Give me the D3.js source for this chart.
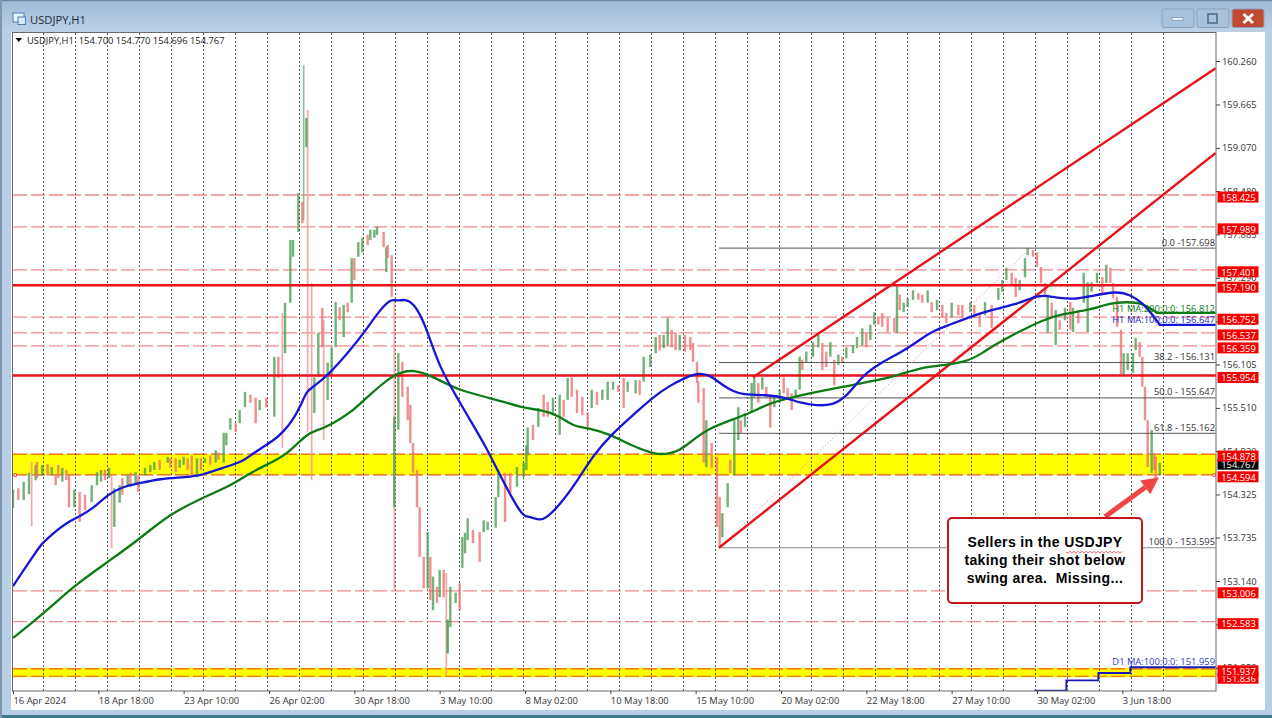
<!DOCTYPE html>
<html>
<head>
<meta charset="utf-8">
<title>USDJPY,H1</title>
<script src="https://cdn.jsdelivr.net/npm/d3@7/dist/d3.min.js"></script>
<style>
html,body{margin:0;padding:0;background:#fff;overflow:hidden}
svg{display:block}
text{font-family:"Open Sans","Noto Sans",sans-serif}
</style>
</head>
<body>
<svg id="chart" width="1272" height="718"></svg>
<script>
// ---------- tick labels ----------
const dateTickBars = [0,64,128,192,256,320,384,448,512,576,640,704,768,832];
const dateTickLabels = ["16 Apr 2024","18 Apr 18:00","23 Apr 10:00","26 Apr 02:00","30 Apr 18:00","3 May 10:00","8 May 02:00","10 May 18:00","15 May 10:00","20 May 02:00","22 May 18:00","27 May 10:00","30 May 02:00","3 Jun 18:00"];
const priceTicks = [160.26,159.665,159.07,158.48,157.885,157.29,156.695,156.105,155.51,154.92,154.325,153.735,153.14,152.545,151.95];
const gridBars = [22,46,70,94,118,142,166,190,214,238,262,286,310,334,358,382,406,430,454,478,502,526,550,574,598,622,646,670,694,718,742,766,790,814,838,862];

// ---------- hourly price columns: bar, high, low, direction (1 up, -1 down) ----------
const candleBars = [0,4,8,12,17,18,22,26,29,32,34,37,40,42,46,50,54,59,63,66,69,72,76,80,82,86,88,92,94,99,103,106,110,116,118,122,125,128,131,134,138,141,144,148,152,154,158,160,163,167,170,174,178,182,185,190,196,199,204,208,210,214,217,220,
226,229,232,236,239,242,245,248,251,254,256,259,262,266,268,271,273,278,280,281,284,286,289,292,296,298,300,303,305,308,311,313,315,318,320,323,326,328,332,335,337,339,341,345,350,353,356,362,364,369,373,378,383,385,386,390,394,398,401,405,410,413,416,419,423,427,431,434,438,442,446,450,454,458,461,467,470,473,478,482,485,488,491,494,497,500,504,508,510,513,514,518,520,524,528,530,532,536,538,541,544,546,549,
554,556,559,562,565,568,571,575,578,581,584,587,590,592,595,600,604,607,610,613,616,619,622,625,630,633,637,640,643,646,649,652,656,661,663,665,668,671,675,679,682,686,689,693,697,700,704,709,712,718,721,725,729,734,739,742,745,749,752,755,759,761,765,768,771,774,776,779,782,785,789,793,795,799,803,806,809,813,817,820,823,825,828,831,833,836,840,842,845,847,849,851,854,856,857,860];
const candleHighs = [154.39,154.41,154.50,154.62,154.73,154.77,154.73,154.74,154.70,154.59,154.73,154.69,154.66,154.59,154.39,154.36,154.32,154.45,154.63,154.66,154.66,154.69,154.41,154.45,154.55,154.59,154.62,154.63,154.59,154.69,154.73,154.77,154.80,154.84,154.82,154.82,154.80,154.84,154.82,154.86,154.82,154.82,154.82,154.86,154.93,154.90,155.17,155.17,155.37,155.30,155.48,155.73,155.69,155.65,155.62,155.65,156.21,156.21,156.95,157.81,157.81,158.45,158.33,159.48,
155.93,156.54,156.88,156.13,156.34,156.96,156.89,156.92,156.95,157.56,157.56,157.78,157.84,157.88,157.95,157.95,157.99,157.92,157.71,157.74,157.60,155.39,156.26,156.14,155.80,155.55,155.03,154.66,154.15,153.47,153.81,153.47,153.20,153.06,153.29,153.29,152.61,153.06,152.98,153.11,153.74,153.80,154.00,153.84,153.81,153.97,153.95,154.29,154.62,154.62,154.62,154.70,154.76,155.00,155.24,155.28,155.51,155.69,155.59,155.65,155.69,155.62,155.92,155.93,155.76,155.66,155.45,155.76,155.73,155.76,155.87,155.87,155.82,155.92,155.87,155.89,155.89,156.21,156.24,156.48,156.51,156.51,156.74,156.58,156.54,156.51,156.51,156.48,156.40,156.14,155.87,155.78,155.34,155.03,154.84,154.29,154.07,154.48,154.80,155.34,155.52,155.34,155.44,
155.85,155.93,155.85,155.93,155.80,155.66,155.66,155.76,155.93,155.78,155.71,155.76,156.21,156.17,156.28,156.41,156.51,156.40,156.28,156.41,156.17,156.24,156.21,156.34,156.37,156.48,156.60,156.54,156.65,156.82,156.75,156.81,156.74,156.74,157.19,157.06,156.95,157.01,157.12,157.08,157.06,157.12,156.96,156.99,156.92,156.81,156.95,156.92,156.92,156.96,156.92,156.81,156.96,156.92,157.15,157.26,157.43,157.36,157.29,157.26,157.56,157.70,157.67,157.64,157.44,157.22,157.06,156.95,156.85,156.71,156.88,156.96,156.88,156.85,157.36,157.23,157.23,157.36,157.30,157.47,157.43,157.22,157.03,156.58,156.26,156.26,156.26,156.47,156.41,156.21,155.80,155.34,155.21,154.89,154.84,154.76];
const candleLows = [154.14,154.25,154.25,154.33,154.52,154.55,154.58,154.58,154.59,154.45,154.55,154.50,154.52,154.15,154.15,153.95,154.11,154.22,154.45,154.50,154.52,154.55,153.88,154.21,154.32,154.45,154.43,154.48,154.36,154.59,154.63,154.66,154.66,154.76,154.69,154.63,154.69,154.73,154.66,154.56,154.56,154.66,154.76,154.73,154.76,154.80,154.76,155.00,155.21,155.18,155.30,155.52,155.58,155.30,155.48,155.52,155.39,155.92,156.26,156.95,157.58,157.92,158.04,159.08,
155.44,155.93,156.34,155.62,155.96,156.34,156.71,156.48,156.82,156.95,157.26,157.58,157.64,157.74,157.81,157.84,157.88,157.71,157.37,157.56,157.03,154.15,155.21,155.66,155.34,155.03,154.62,154.15,153.47,153.04,153.04,152.88,152.74,152.84,152.92,152.92,152.15,152.51,152.84,152.74,153.32,153.52,153.70,153.66,153.40,153.81,153.84,153.87,154.29,153.95,154.35,154.43,154.56,154.66,154.86,155.07,155.25,155.39,155.39,155.41,155.14,155.39,155.62,155.66,155.44,155.41,155.25,155.51,155.55,155.62,155.62,155.76,155.73,155.51,155.73,155.71,155.69,155.87,156.07,156.26,156.30,156.33,156.37,156.34,156.30,156.30,156.28,156.30,156.14,155.85,155.58,154.76,154.70,154.69,153.88,153.60,153.74,154.15,154.62,154.59,155.07,155.17,155.25,
155.44,155.66,155.58,155.76,155.66,155.24,155.52,155.58,155.71,155.65,155.48,155.65,155.76,156.03,156.13,156.21,156.34,156.03,156.07,156.21,155.82,156.10,156.13,156.19,156.26,156.33,156.37,156.34,156.44,156.65,156.65,156.62,156.55,156.54,156.54,156.85,156.82,156.89,156.99,156.99,156.95,156.95,156.82,156.85,156.75,156.67,156.75,156.78,156.74,156.82,156.74,156.62,156.78,156.60,156.99,157.10,157.26,157.19,157.03,157.12,157.30,157.60,157.58,157.44,157.22,157.03,156.54,156.75,156.37,156.58,156.71,156.58,156.55,156.67,156.95,156.55,157.10,157.22,157.06,157.22,157.22,157.01,156.62,155.96,155.96,156.03,155.99,156.30,156.21,155.80,155.34,154.70,154.62,154.66,154.55,154.59];
const candleDirs = [1,-1,1,1,1,-1,1,-1,1,-1,-1,1,-1,-1,1,-1,-1,1,1,1,-1,1,1,1,-1,1,-1,1,-1,1,1,1,-1,1,-1,-1,1,1,-1,-1,1,-1,1,-1,1,-1,1,1,1,-1,1,1,-1,-1,1,-1,1,-1,1,1,1,1,-1,1,
1,1,-1,1,1,1,-1,1,-1,1,-1,1,1,-1,1,1,1,-1,1,-1,-1,1,1,-1,-1,-1,-1,-1,-1,-1,1,-1,1,-1,1,-1,1,1,1,-1,1,1,1,-1,-1,1,1,1,1,-1,-1,1,1,1,1,-1,1,-1,-1,1,1,-1,1,-1,-1,-1,-1,1,-1,1,1,1,-1,-1,1,1,-1,1,1,1,-1,1,1,-1,-1,1,-1,-1,-1,-1,-1,-1,1,-1,-1,-1,1,1,-1,1,1,-1,1,
1,1,-1,1,-1,-1,1,1,-1,-1,-1,1,1,-1,1,1,1,-1,-1,1,-1,1,-1,1,1,1,1,-1,1,1,-1,-1,-1,-1,1,-1,1,1,1,-1,-1,1,-1,1,-1,-1,1,-1,-1,1,-1,-1,1,-1,1,1,1,-1,-1,1,1,1,-1,-1,-1,-1,1,-1,1,-1,1,-1,1,-1,1,1,1,1,-1,1,-1,-1,-1,-1,1,1,1,1,-1,-1,-1,-1,1,-1,-1,1];

// ---------- long pale wicks ----------
const wickBars = [14,74,202,218,221,224,233,286,325,326];
const wickHighs = [154.77,154.59,156.81,160.205,159.59,157.22,156.71,156.99,153.25,152.61];
const wickLows = [153.89,153.59,154.96,158.08,155.18,154.52,155.07,153.02,151.85,152.15];
const wickDirs = [-1,-1,-1,1,-1,-1,-1,-1,-1,1];

// ---------- moving averages ----------
const ma100Bars = [0,18,22,30,40,52,63,71,82,95,110,130,142,157,172,180,196,202,210,217,220,225,236,252,265,275,284,288,294,300,307,313,320,333,343,355,367,382,386,395,400,410,423,435,450,465,480,493,505,514,523,532,540,547,565,580,590,603,615,624,633,640,652,665,678,688,703,715,733,753,763,772,785,798,808,828,838,847,855,860,860,860,902];
const ma100Values = [153.07,153.56,153.66,153.79,153.94,154.04,154.18,154.32,154.43,154.48,154.54,154.56,154.59,154.69,154.77,154.89,155.07,155.17,155.34,155.59,155.73,155.80,155.95,156.28,156.58,156.85,157.01,156.97,157.00,156.95,156.74,156.44,156.07,155.65,155.34,154.97,154.52,154.02,154.03,153.97,154.00,154.18,154.50,154.86,155.17,155.41,155.66,155.82,155.93,155.99,155.96,155.82,155.74,155.69,155.69,155.65,155.58,155.54,155.55,155.65,155.85,155.99,156.14,156.26,156.41,156.55,156.65,156.74,156.85,156.93,157.01,157.06,157.01,157.00,157.04,157.11,157.06,156.95,156.78,156.647,156.647,156.647,156.647];
const ma200Bars = [0,15,30,45,70,94,116,142,163,178,190,205,221,230,240,253,265,284,292,300,313,335,358,382,397,410,420,430,448,463,483,493,500,508,520,535,553,568,583,603,623,643,663,680,700,715,727,735,753,772,787,808,823,835,847,858,858,858,902];
const ma200Values = [152.36,152.58,152.81,153.06,153.39,153.70,154.04,154.28,154.44,154.62,154.73,154.86,155.17,155.21,155.30,155.44,155.65,155.95,156.00,156.03,155.96,155.74,155.65,155.51,155.48,155.40,155.26,155.24,155.15,155.00,154.86,154.89,154.93,155.04,155.21,155.32,155.44,155.58,155.65,155.73,155.80,155.87,155.95,156.06,156.10,156.14,156.26,156.36,156.54,156.71,156.80,156.85,156.95,156.96,156.95,156.812,156.812,156.812,156.812];
const d1MaBars = [766,790,814,838,902];
const d1MaValues = [151.64,151.78,151.88,151.959,151.959];

// ---------- levels ----------
const dashedLevels = [158.425,157.989,157.401,156.752,156.537,156.359,153.006,152.583];
const solidLevels = [157.19,155.954];
const zoneOne = [154.594,154.878];
const zoneTwo = [151.836,151.937];
const redPriceTags = [158.425,157.989,157.401,157.19,156.752,156.537,156.359,155.954,154.594,154.878,153.006,152.583,151.836,151.937];
const lastPrice = 154.767;

// ---------- Fibonacci retracement ----------
const fibStartBar = 529.5, fibEndBar = 902, fibAnchorBar = 763;
const fibValues = [157.698,156.131,155.647,155.162,153.595];
const fibLabels = ["0.0 -157.698","38.2 - 156.131","50.0 - 155.647","61.8 - 155.162","100.0 - 153.595"];

// ---------- trend lines: [bar0, price0, bar1, price1] ----------
const channelUpper = [555,155.93,902,160.16];
const channelLower = [529.5,153.595,902,159.00];
const arrowTail = [819,154.02];
const arrowTip = [859.5,154.56];

const infoText = "USDJPY,H1  154.700 154.770 154.696 154.767";
const calloutLines = ["Sellers in the USDJPY","taking their shot below","swing area.  Missing..."];
const maLabels = ["H1 MA:200:0:0: 156.812","H1 MA:100:0:0: 156.647","D1 MA:100:0:0: 151.959"];
const maLabelColors = ["#0f7a14","#2222cc","#3a3ad0"];
const maLabelPrices = [156.83,156.67,151.99];

// ---------- layout ----------
const W = 1272, H = 718;
const plot = {left:13, right:1216, top:33, bottom:691};
const svg = d3.select("#chart");

const x = d3.scaleLinear().domain([0,902.25]).range([plot.left,plot.right]);
const y = d3.scaleLinear().domain([160.26,153.14]).range([61,581]);

const defs = svg.append("defs");
const grad = defs.append("linearGradient").attr("id","titleGrad").attr("x1",0).attr("x2",0).attr("y1",0).attr("y2",1);
grad.append("stop").attr("offset",0).attr("stop-color","#9fb9d6");
grad.append("stop").attr("offset",1).attr("stop-color","#bcd1e6");
const clip = defs.append("clipPath").attr("id","plotClip");
clip.append("rect").attr("x",plot.left).attr("y",plot.top).attr("width",plot.right-plot.left).attr("height",plot.bottom-plot.top);

// window chrome
svg.append("rect").attr("width",W).attr("height",H).attr("fill","#b9cfe6");
svg.append("rect").attr("width",W).attr("height",33).attr("fill","url(#titleGrad)");
svg.append("rect").attr("width",W).attr("height",1.2).attr("fill","#76879a");
svg.append("rect").attr("y",H-3).attr("width",W).attr("height",3).attr("fill","#3c7b88");
svg.append("rect").attr("x",0).attr("width",2).attr("height",H).attr("fill","#7f96ad");
svg.append("rect").attr("x",11).attr("y",32).attr("width",1254).attr("height",678).attr("fill","#fff");

// title bar icon and text
const icon = svg.append("g");
icon.append("rect").attr("x",13).attr("y",13).attr("width",11).attr("height",9).attr("fill","#e9f2fb").attr("stroke","#4f7fae");
icon.append("rect").attr("x",18).attr("y",17).attr("width",7.5).attr("height",7.5).attr("fill","#dbe9f6").attr("stroke","#4f7fae");
svg.append("text").attr("x",30).attr("y",23.5).attr("font-size",11.2).attr("fill","#1c2b3a").text("USDJPY,H1");

// window buttons
const btns = [[1162,"#a9c2dc"],[1197,"#a9c2dc"],[1232,"#c2482f"]];
btns.forEach(b=>{
  svg.append("rect").attr("x",b[0]).attr("y",9).attr("width",32).attr("height",18.5).attr("rx",2).attr("fill",b[1]).attr("stroke","#8aa3bd");
});
svg.append("rect").attr("x",1172).attr("y",17.5).attr("width",11).attr("height",3).attr("fill","#e8eef5").attr("stroke","#6e839a").attr("stroke-width",.6);
svg.append("rect").attr("x",1208).attr("y",14).attr("width",9).attr("height",9).attr("fill","none").attr("stroke","#51667c").attr("stroke-width",1.5);
svg.append("path").attr("d","M1243.5 14 L1253 23 M1253 14 L1243.5 23").attr("stroke","#fff").attr("stroke-width",3);

// plot layers
const g = svg.append("g").attr("clip-path","url(#plotClip)");

// yellow zones
[zoneOne,zoneTwo].forEach(z=>{
  const pad = z===zoneTwo ? 1 : 0;
  g.append("rect").attr("x",plot.left).attr("width",plot.right-plot.left)
    .attr("y",y(z[1])-pad).attr("height",y(z[0])-y(z[1])+2*pad).attr("fill","#ffff00");
  z.forEach(v=>{
    g.append("line").attr("x1",plot.left).attr("x2",plot.right).attr("y1",y(v)).attr("y2",y(v))
      .attr("stroke","#ea5a12").attr("stroke-width",1.2).attr("stroke-dasharray","14,4");
  });
});

// vertical grid
g.selectAll("line.grid").data(gridBars).join("line").attr("class","grid")
  .attr("x1",d=>Math.round(x(d)+.4)+.5).attr("x2",d=>Math.round(x(d)+.4)+.5).attr("y1",plot.top).attr("y2",plot.bottom)
  .attr("stroke","#555").attr("stroke-width",1).attr("stroke-dasharray","2,2");

// dashed levels
g.selectAll("line.lvl").data(dashedLevels).join("line").attr("class","lvl")
  .attr("x1",plot.left).attr("x2",plot.right).attr("y1",d=>y(d)).attr("y2",d=>y(d))
  .attr("stroke","#f08a8a").attr("stroke-width",1.3).attr("stroke-dasharray","14,4");

// wicks then candles
const col = d=>d>0?"#4f9f55":"#ee7373";
g.selectAll("line.wick").data(wickBars).join("line").attr("class","wick")
  .attr("x1",d=>x(d)).attr("x2",d=>x(d))
  .attr("y1",(d,i)=>y(wickHighs[i])).attr("y2",(d,i)=>y(wickLows[i]))
  .attr("stroke",(d,i)=>wickDirs[i]>0?"#7fb886":"#f29a9a").attr("stroke-width",1.7).attr("opacity",.85);
g.selectAll("line.candle").data(candleBars).join("line").attr("class","candle")
  .attr("x1",d=>x(d)).attr("x2",d=>x(d))
  .attr("y1",(d,i)=>y(candleHighs[i])).attr("y2",(d,i)=>y(candleLows[i]))
  .attr("stroke",(d,i)=>col(candleDirs[i])).attr("stroke-width",2.4).attr("opacity",.8);

// fibonacci lines
g.selectAll("line.fib").data(fibValues).join("line").attr("class","fib")
  .attr("x1",x(fibStartBar)).attr("x2",x(fibEndBar)).attr("y1",d=>y(d)).attr("y2",d=>y(d))
  .attr("stroke",(d,i)=>i===4?"#8c8c8c":"#555").attr("stroke-width",1);
g.append("line").attr("x1",x(fibStartBar)).attr("y1",y(fibValues[4])).attr("x2",x(fibAnchorBar)).attr("y2",y(fibValues[0]))
  .attr("stroke","#f2a0a0").attr("stroke-width",1).attr("stroke-dasharray","1.5,2");
g.selectAll("text.fibt").data(fibLabels).join("text").attr("class","fibt")
  .attr("x",plot.right-1).attr("y",(d,i)=>y(fibValues[i])-2.5).attr("text-anchor","end")
  .attr("font-size",9.4).attr("fill","#333").text(d=>d);

// solid levels
g.selectAll("line.solid").data(solidLevels).join("line").attr("class","solid")
  .attr("x1",plot.left).attr("x2",plot.right).attr("y1",d=>y(d)).attr("y2",d=>y(d))
  .attr("stroke","#e8121a").attr("stroke-width",2.4);

// channel
[channelUpper,channelLower].forEach(c=>{
  g.append("line").attr("x1",x(c[0])).attr("y1",y(c[1])).attr("x2",x(c[2])).attr("y2",y(c[3]))
    .attr("stroke","#e8121a").attr("stroke-width",2.4);
});

// moving averages
const maLine = d3.line().x(d=>x(d[0])).y(d=>y(d[1])).curve(d3.curveBasis);
g.append("path").attr("d",maLine(d3.zip(ma200Bars,ma200Values))).attr("fill","none").attr("stroke","#0f7a14").attr("stroke-width",2.3);
g.append("path").attr("d",maLine(d3.zip(ma100Bars,ma100Values))).attr("fill","none").attr("stroke","#1616d6").attr("stroke-width",2.3);
const stepLine = d3.line().x(d=>x(d[0])).y(d=>y(d[1])).curve(d3.curveStepAfter);
g.append("path").attr("d",stepLine(d3.zip(d1MaBars,d1MaValues))).attr("fill","none").attr("stroke","#1a1ab8").attr("stroke-width",1.8);

// moving-average labels
g.selectAll("text.mal").data(maLabels).join("text").attr("class","mal")
  .attr("x",plot.right-1).attr("y",(d,i)=>y(maLabelPrices[i])).attr("text-anchor","end")
  .attr("font-size",9.4).attr("fill",(d,i)=>maLabelColors[i]).text(d=>d);

// info line
svg.append("path").attr("d","M15.5 38 L22 38 L18.7 42 Z").attr("fill","#000");
svg.append("text").attr("x",27).attr("y",44).attr("font-size",9.4).attr("fill","#222").attr("xml:space","preserve").style("white-space","pre").text(infoText);

// small object anchors
[plot.left+1,plot.right-3].forEach(px=>{
  svg.append("rect").attr("x",px).attr("y",y(zoneOne[0])-1).attr("width",2.5).attr("height",2.5).attr("fill","#fff").attr("stroke","#e8121a").attr("stroke-width",.7);
});

// frame
svg.append("rect").attr("x",plot.left-.5).attr("y",plot.top-.5).attr("width",plot.right-plot.left+.5).attr("height",plot.bottom-plot.top+.5)
  .attr("fill","none").attr("stroke","#6a6a6a").attr("stroke-width",1);

// axes
const yAxis = d3.axisRight(y).tickValues(priceTicks).tickFormat(d3.format(".3f")).tickSize(4).tickPadding(2);
const yG = svg.append("g").attr("transform",`translate(${plot.right},0)`).call(yAxis);
yG.select(".domain").remove();
yG.selectAll("text").attr("font-size",9.4).attr("fill","#333").style("font-family",'"Open Sans","Noto Sans",sans-serif');
yG.selectAll("line").attr("stroke","#444");

const xAxis = d3.axisBottom(x).tickValues(dateTickBars).tickFormat((d,i)=>dateTickLabels[i]).tickSize(3).tickPadding(3);
const xG = svg.append("g").attr("transform",`translate(0,${plot.bottom})`).call(xAxis);
xG.select(".domain").remove();
xG.selectAll("text").attr("text-anchor","start").attr("font-size",9.4).attr("fill","#333").style("font-family",'"Open Sans","Noto Sans",sans-serif');
xG.selectAll("line").attr("stroke","#444");

// price tags
const tag = (v,fill)=>{
  svg.append("rect").attr("x",plot.right+1.5).attr("y",y(v)-3.5).attr("width",41).attr("height",11).attr("fill",fill);
  svg.append("text").attr("x",plot.right+5.2).attr("y",y(v)+5.8).attr("font-size",9.4).attr("fill","#fff").text(d3.format(".3f")(v));
};
tag(lastPrice,"#000");
redPriceTags.forEach(v=>tag(v,"#f50000"));

// arrow
const [ax0,ay0,ax1,ay1] = [x(arrowTail[0]),y(arrowTail[1]),x(arrowTip[0]),y(arrowTip[1])];
const ang = Math.atan2(ay1-ay0,ax1-ax0);
const hl = 17, hw = 8.5;
const bx = ax1-hl*Math.cos(ang), by = ay1-hl*Math.sin(ang);
svg.append("line").attr("x1",ax0).attr("y1",ay0).attr("x2",bx).attr("y2",by).attr("stroke","#f04545").attr("stroke-width",5);
svg.append("path").attr("d",`M${ax1} ${ay1} L${bx-hw*Math.sin(ang)} ${by+hw*Math.cos(ang)} L${bx+hw*Math.sin(ang)} ${by-hw*Math.cos(ang)} Z`).attr("fill","#f04545");

// callout
svg.append("rect").attr("x",948).attr("y",518).attr("width",194).attr("height",85).attr("rx",4)
  .attr("fill","#fff").attr("stroke","#c8141c").attr("stroke-width",2);
calloutLines.forEach((t,i)=>{
  svg.append("text").attr("x",1045).attr("y",547+i*18.2).attr("text-anchor","middle")
    .attr("font-size",14).attr("font-weight",700).attr("fill","#000").attr("letter-spacing",.38)
    .attr("xml:space","preserve").style("white-space","pre")
    .style("font-family",'"Liberation Sans",Arial,sans-serif').text(t);
});
let sq = "M1066 552";
for(let i=1;i<=28;i++){ sq += ` L${1066+i*2} ${i%2?553.2:551.2}`; }
svg.append("path").attr("d",sq).attr("fill","none").attr("stroke","#d8404a").attr("stroke-width",.8);
</script>
</body>
</html>
